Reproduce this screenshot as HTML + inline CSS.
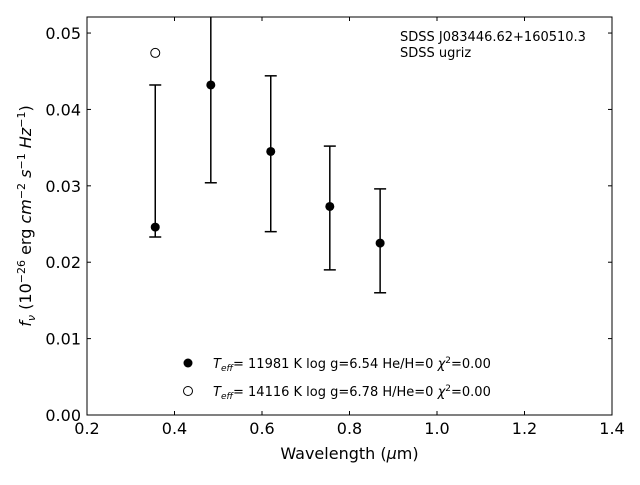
<!DOCTYPE html>
<html><head><meta charset="utf-8"><style>
body{margin:0;background:#fff;}
svg text{font-family:"DejaVu Sans","Liberation Sans",sans-serif;}
</style></head><body>
<svg id="chart" width="640" height="480" xmlns="http://www.w3.org/2000/svg">
<rect x="0" y="0" width="640" height="480" fill="#fff"/>
<g id="marks"></g>
<rect x="87" y="17" width="525" height="398" fill="none" stroke="#000" stroke-width="1"/>
<g id="axes"></g>
<text x="349.5" y="459" font-size="16" text-anchor="middle">Wavelength (<tspan font-style="italic">μ</tspan>m)</text>
<text transform="translate(31,216) rotate(-90)" font-size="16" text-anchor="middle"><tspan font-style="italic">f</tspan><tspan font-style="italic" font-size="11" dy="4">ν</tspan><tspan dy="-4"> (10</tspan><tspan font-size="11" dy="-6">−26</tspan><tspan dy="6"> erg </tspan><tspan font-style="italic">cm</tspan><tspan font-size="11" dy="-6">−2</tspan><tspan dy="6"> </tspan><tspan font-style="italic">s</tspan><tspan font-size="11" dy="-6">−1</tspan><tspan dy="6"> </tspan><tspan font-style="italic">Hz</tspan><tspan font-size="11" dy="-6">−1</tspan><tspan dy="6">)</tspan></text>
<text x="400" y="41" font-size="13">SDSS J083446.62+160510.3</text>
<text x="400" y="57" font-size="13">SDSS ugriz</text>
<g>
<circle cx="188" cy="363" r="4.5" fill="#000"/>
<text x="213" y="368" font-size="13"><tspan font-style="italic">T</tspan><tspan font-style="italic" font-size="9" dy="3">eff</tspan><tspan dy="-3">= 11981 K  log g=6.54  He/H=0  </tspan><tspan font-style="italic">χ</tspan><tspan font-size="9" dy="-5">2</tspan><tspan dy="5">=0.00</tspan></text>
<circle cx="188" cy="391" r="4.5" fill="#fff" stroke="#000"/>
<text x="213" y="396" font-size="13"><tspan font-style="italic">T</tspan><tspan font-style="italic" font-size="9" dy="3">eff</tspan><tspan dy="-3">= 14116 K  log g=6.78  H/He=0  </tspan><tspan font-style="italic">χ</tspan><tspan font-size="9" dy="-5">2</tspan><tspan dy="5">=0.00</tspan></text>
</g>
</svg>
<script>
const wavelengths=[0.356,0.483,0.620,0.755,0.870];
const fluxes=[0.0246,0.0432,0.0345,0.0273,0.0225];
const errLow=[0.0233,0.0304,0.0240,0.0190,0.0160];
const errHigh=[0.0432,0.0560,0.0444,0.0352,0.0296];
const modelWave=[0.356];
const modelFlux=[0.0474];
const xTicks=[0.2,0.4,0.6,0.8,1.0,1.2,1.4];
const yTicks=[0,0.01,0.02,0.03,0.04,0.05];
const NS="http://www.w3.org/2000/svg";
const X=v=>87+(v-0.2)/1.2*525;
const Y=v=>415-v/0.0521*398;
const marks=document.getElementById('marks'),axes=document.getElementById('axes');
function mk(p,tag,a){const e=document.createElementNS(NS,tag);for(const k in a)e.setAttribute(k,a[k]);p.appendChild(e);return e;}
const clip=mk(marks,'clipPath',{id:'c'});mk(clip,'rect',{x:87,y:17,width:525,height:398});
const g=mk(marks,'g',{'clip-path':'url(#c)'});
wavelengths.forEach((w,i)=>{
 const x=X(w);
 const l=mk(g,'line',{x1:x,x2:x,y1:Y(errLow[i]),y2:Y(errHigh[i]),stroke:'#000','stroke-width':1.5});
 
 
 [errLow[i],errHigh[i]].forEach(v=>{const c=mk(g,'line',{x1:x-6,x2:x+6,y1:Y(v),y2:Y(v),stroke:'#000','stroke-width':1.5});
 
 });
 const p=mk(g,'circle',{cx:x,cy:Y(fluxes[i]),r:4.5,fill:'#000'});
 
 
});
modelWave.forEach((w,i)=>{const p=mk(g,'circle',{cx:X(w),cy:Y(modelFlux[i]),r:4.5,fill:'#fff',stroke:'#000'});
 
 });
xTicks.forEach(t=>{const x=X(t);
 mk(axes,'line',{x1:x,x2:x,y1:415,y2:411,stroke:'#000'});mk(axes,'line',{x1:x,x2:x,y1:17,y2:21,stroke:'#000'});
 const tx=mk(axes,'text',{x:x,y:434,'font-size':16,'text-anchor':'middle'});tx.textContent=t.toFixed(1);
 
 });
yTicks.forEach(t=>{const y=Y(t);
 mk(axes,'line',{x1:87,x2:91,y1:y,y2:y,stroke:'#000'});mk(axes,'line',{x1:612,x2:608,y1:y,y2:y,stroke:'#000'});
 const tx=mk(axes,'text',{x:81,y:y+6,'font-size':16,'text-anchor':'end'});tx.textContent=t.toFixed(2);
 
 });
</script>
</body></html>
